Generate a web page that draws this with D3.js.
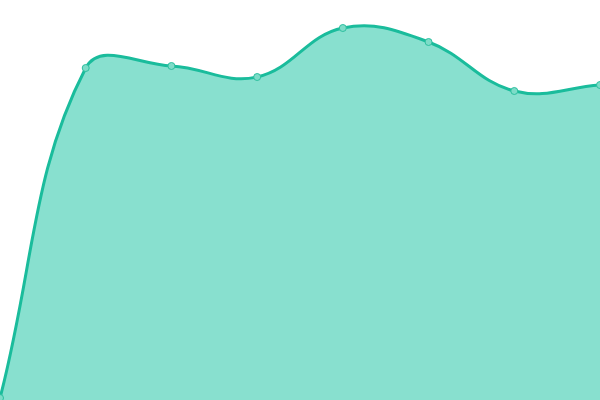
<!DOCTYPE html>
<html>
<head>
<meta charset="utf-8">
<script src="https://cdn.jsdelivr.net/npm/d3@7"></script>
<style>
  html, body { margin: 0; padding: 0; background: #fff; }
  svg { display: block; }
</style>
</head>
<body>
<div id="chart"></div>
<script>
(function() {
"use strict";

const LABELS = ["A", "B", "C", "D", "E", "F", "G", "H"];
const VALUES = [0.5, 83, 83.5, 80.75, 93, 89.5, 77.25, 78.75];

const WIDTH = 600;
const HEIGHT = 400;
const TENSION = 0.4;

const SVG = d3.select("#chart")
              .append("svg")
              .attr("width", WIDTH)
              .attr("height", HEIGHT);

const data = LABELS.map((l, i) => ({ label: l, value: VALUES[i] }));

const xScale = d3.scalePoint()
                .domain(LABELS)
                .range([0, WIDTH]);

const yScale = d3.scaleLinear()
                .domain([0, 100])
                .range([HEIGHT, 0]);

// spline with distance-weighted control points, capped to the plot area
function splineCurve(context) {
  let pts = [];
  const clampX = (v) => Math.max(0, Math.min(WIDTH, v));
  const clampY = (v) => Math.max(0, Math.min(HEIGHT, v));
  return {
    areaStart() { this._line = 0; },
    areaEnd() { this._line = NaN; },
    lineStart() { pts = []; },
    lineEnd() {
      const n = pts.length;
      if (!n) return;
      const ctrl = pts.map((p, i) => {
        const prev = pts[Math.max(0, i - 1)];
        const next = pts[Math.min(n - 1, i + 1)];
        const d01 = Math.hypot(p[0] - prev[0], p[1] - prev[1]);
        const d12 = Math.hypot(next[0] - p[0], next[1] - p[1]);
        let fa = d01 / (d01 + d12 || 1);
        let fb = d12 / (d01 + d12 || 1);
        fa = isNaN(fa) ? 0 : fa * TENSION;
        fb = isNaN(fb) ? 0 : fb * TENSION;
        return {
          px: clampX(p[0] - fa * (next[0] - prev[0])),
          py: clampY(p[1] - fa * (next[1] - prev[1])),
          nx: clampX(p[0] + fb * (next[0] - prev[0])),
          ny: clampY(p[1] + fb * (next[1] - prev[1]))
        };
      });
      if (this._line) context.lineTo(pts[0][0], pts[0][1]);
      else context.moveTo(pts[0][0], pts[0][1]);
      for (let i = 1; i < n; i++) {
        context.bezierCurveTo(ctrl[i - 1].nx, ctrl[i - 1].ny,
                              ctrl[i].px, ctrl[i].py,
                              pts[i][0], pts[i][1]);
      }
      if (this._line || (this._line !== 0 && n === 1)) context.closePath();
      this._line = 1 - this._line;
    },
    point(x, y) { pts.push([+x, +y]); }
  };
}

const area = d3.area()
               .x((d) => xScale(d.label))
               .y0(HEIGHT)
               .y1((d) => yScale(d.value))
               .curve(splineCurve);

const line = d3.line()
               .x((d) => xScale(d.label))
               .y((d) => yScale(d.value))
               .curve(splineCurve);

SVG.append("path")
  .datum(data)
  .attr("d", area)
  .attr("fill", "#88e0cf");

SVG.append("path")
  .datum(data)
  .attr("d", line)
  .attr("fill", "none")
  .attr("stroke", "#1abc9c")
  .attr("stroke-width", 3);

SVG.selectAll("circle")
  .data(data)
  .enter()
  .append("circle")
    .attr("cx", (d) => xScale(d.label))
    .attr("cy", (d) => yScale(d.value))
    .attr("r", 3.5)
    .attr("fill", "#7ddcc8")
    .attr("stroke", "#2dbf9f")
    .attr("stroke-width", 1);

})();
</script>
</body>
</html>
